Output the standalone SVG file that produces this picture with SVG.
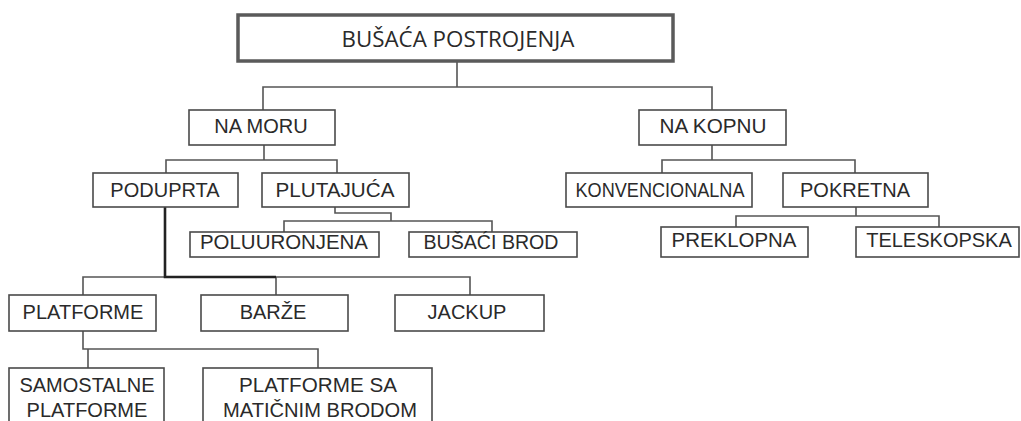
<svg xmlns="http://www.w3.org/2000/svg" width="1021" height="421" viewBox="0 0 1021 421">
<style>
.box{fill:#fff;stroke:#4a4a4a;stroke-width:1.6}
.top{fill:#fff;stroke:#5a5a5a;stroke-width:3.5}
.t{font-family:"Liberation Sans",Arial,sans-serif;font-size:20px;fill:#2a2a2a;text-anchor:middle}
.tt{font-family:"Open Sans","Liberation Sans",sans-serif;font-size:21px;fill:#2a2a2a;text-anchor:middle}
.c{fill:none;stroke:#555;stroke-width:1.6}
.ck{fill:none;stroke:#222;stroke-width:2.6}
</style>
<rect width="1021" height="421" fill="#fff"/>
<g id="connectors">
<path class="c" d="M457 61V87M263 110V87H712V110"/>
<path class="c" d="M264 145V160M166 173V160H337V173"/>
<path class="c" d="M712 145V160M662 173V160H855V173"/>
<path class="c" d="M335 207V213H391V221M284 232V221H492V232"/>
<path class="c" d="M856 207V216M736 227V216H939V227"/>
<path class="c" d="M83 295V277H470V295M276 277V295"/>
<path class="ck" d="M165 207V277H276"/>
<path class="c" d="M83 331V349H318V368M88 349V368"/>
</g>
<g id="n-busaca"><rect class="top" x="238" y="15" width="435" height="46"/><text class="tt" x="458" y="47" textLength="233" lengthAdjust="spacingAndGlyphs">BUŠAĆA POSTROJENJA</text></g>
<g id="n-na-moru"><rect class="box" x="189" y="110" width="146" height="35"/><text class="t" x="261" y="133">NA MORU</text></g>
<g id="n-na-kopnu"><rect class="box" x="639" y="110" width="147" height="35"/><text class="t" x="713" y="133" textLength="107" lengthAdjust="spacingAndGlyphs">NA KOPNU</text></g>
<g id="n-poduprta"><rect class="box" x="93" y="173" width="145" height="34"/><text class="t" x="165" y="197">PODUPRTA</text></g>
<g id="n-plutajuca"><rect class="box" x="262" y="173" width="147" height="34"/><text class="t" x="335" y="197" textLength="119" lengthAdjust="spacingAndGlyphs">PLUTAJUĆA</text></g>
<g id="n-konvencionalna"><rect class="box" x="566" y="173" width="186" height="34"/><text class="t" x="660" y="197" textLength="169" lengthAdjust="spacingAndGlyphs">KONVENCIONALNA</text></g>
<g id="n-pokretna"><rect class="box" x="783" y="173" width="145" height="34"/><text class="t" x="855" y="197">POKRETNA</text></g>
<g id="n-poluuronjena"><rect class="box" x="190" y="232" width="189" height="25"/><text class="t" x="284" y="249" textLength="168" lengthAdjust="spacingAndGlyphs">POLUURONJENA</text></g>
<g id="n-busaci-brod"><rect class="box" x="409" y="232" width="168" height="25"/><text class="t" x="491" y="249" textLength="135" lengthAdjust="spacingAndGlyphs">BUŠAĆI BROD</text></g>
<g id="n-preklopna"><rect class="box" x="661" y="227" width="147" height="30"/><text class="t" x="734" y="247" textLength="125" lengthAdjust="spacingAndGlyphs">PREKLOPNA</text></g>
<g id="n-teleskopska"><rect class="box" x="856" y="227" width="163" height="30"/><text class="t" x="939" y="247">TELESKOPSKA</text></g>
<g id="n-platforme"><rect class="box" x="9" y="295" width="147" height="36"/><text class="t" x="83" y="319">PLATFORME</text></g>
<g id="n-barze"><rect class="box" x="201" y="295" width="147" height="36"/><text class="t" x="273" y="319">BARŽE</text></g>
<g id="n-jackup"><rect class="box" x="395" y="295" width="149" height="36"/><text class="t" x="467" y="319">JACKUP</text></g>
<g id="n-samostalne"><rect class="box" x="9" y="368" width="155" height="62"/><text class="t" x="87" y="392">SAMOSTALNE</text><text class="t" x="87" y="417">PLATFORME</text></g>
<g id="n-maticni"><rect class="box" x="203" y="368" width="229" height="62"/><text class="t" x="318" y="392" textLength="158" lengthAdjust="spacingAndGlyphs">PLATFORME SA</text><text class="t" x="320" y="417" textLength="194" lengthAdjust="spacingAndGlyphs">MATIČNIM BRODOM</text></g>
</svg>
